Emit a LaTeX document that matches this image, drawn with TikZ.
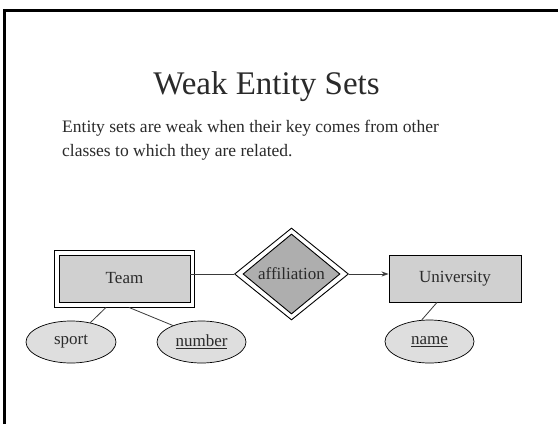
\documentclass[tikz,border=0pt]{standalone}
\usepackage{fontspec}
\setmainfont{Liberation Serif}
\usetikzlibrary{shapes.geometric,arrows.meta,calc}
\definecolor{txt}{HTML}{2A2A2A}
\definecolor{edge}{HTML}{3A3A3A}
\definecolor{entfill}{HTML}{D0D0D0}
\definecolor{relfill}{HTML}{AEAEAE}
\definecolor{attfill}{HTML}{DEDEDE}
\tikzset{
  lbl/.style={font=\fontsize{17}{20}\selectfont, text=txt},
  entbox/.style={draw=black, line width=0.9pt, fill=entfill, inner sep=0pt, lbl},
  outerbox/.style={draw=black, line width=0.9pt, fill=white, inner sep=0pt},
  relshape/.style={diamond, draw=black, line width=0.9pt, fill=relfill, inner sep=0pt, lbl},
  outerrel/.style={diamond, draw=black, line width=0.9pt, fill=white, inner sep=0pt},
  attr/.style={ellipse, draw=black, line width=0.7pt, fill=attfill, inner sep=0pt, lbl},
  conn/.style={draw=edge, line width=0.8pt},
  frameline/.style={draw=black, line width=2.5pt}
}
\begin{document}
\begin{tikzpicture}[x=1pt,y=-1pt]
\useasboundingbox (0,0) rectangle (558,424);
\fill[white] (0,0) rectangle (558,424);
% frame
\coordinate (fb) at (4.7,424);
\coordinate (fc) at (4.7,10.5);
\coordinate (fr) at (558,10.5);
\draw[frameline] (fb) -- (fc) -- (fr);
% title and text
\node[font=\fontsize{33}{36}\selectfont, text=txt, inner sep=0pt, anchor=base] (title) at (266.5,94) {Weak Entity Sets};
\node[font=\fontsize{17.5}{24}\selectfont, text=txt, inner sep=0pt, anchor=north west, align=left] (body) at (62,120)
  {Entity sets are weak when their key comes from other\\classes to which they are related.};
% entities
\node[outerbox, minimum width=140pt, minimum height=57pt] (teamO) at (124,278.5) {};
\node[entbox, minimum width=131pt, minimum height=47pt] (team) at (124.5,278.5) {Team};
\node[entbox, minimum width=132pt, minimum height=47pt] (uni) at (455,278.5) {University};
% relationship
\node[outerrel, minimum width=114pt, minimum height=92pt] (affO) at (291.5,274) {};
\node[relshape, minimum width=97pt, minimum height=80pt] (aff) at (291.5,274) {affiliation};
% attributes
\node[attr, minimum width=90pt, minimum height=42pt] (sport) at (71,342) {sport};
\node[attr, minimum width=89pt, minimum height=42pt] (number) at (201.5,342) {\underline{number}};
\node[attr, minimum width=89pt, minimum height=43pt] (name) at (429.5,341.5) {\underline{name}};
% connectors
\draw[conn] (team.east |- affO.west) -- (affO.west);
\draw[conn, -{Stealth[length=7pt,width=5pt]}] (affO.east) -- (uni.west |- affO.east);
\draw[conn] ($(teamO.south)+(-18,0)$) -- (sport.45);
\draw[conn] ($(teamO.south)+(5,0)$) -- (number.150);
\draw[conn] ($(uni.south)+(-18,0)$) -- (name.110);
\end{tikzpicture}
\end{document}
